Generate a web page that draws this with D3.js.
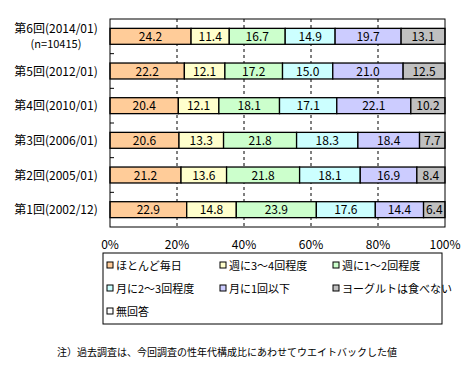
<!DOCTYPE html>
<html>
<head>
<meta charset="utf-8">
<script src="https://cdn.jsdelivr.net/npm/d3@7"></script>
<style>
  body { margin: 0; background: #fff; }
  text { font-family: "Noto Sans CJK JP", sans-serif; font-size: 12px; fill: #000; }
</style>
</head>
<body>
<svg id="chart" width="475" height="375"></svg>
<script>
// survey rounds, top to bottom
const rounds = ["第6回(2014/01)", "第5回(2012/01)", "第4回(2010/01)", "第3回(2006/01)", "第2回(2005/01)", "第1回(2002/12)"];
const subLabels = ["(n=10415)", "", "", "", "", ""];
const seriesNames = ["ほとんど毎日", "週に3～4回程度", "週に1～2回程度", "月に2～3回程度", "月に1回以下", "ヨーグルトは食べない", "無回答"];
const colors = ["#ffcc99", "#ffffcc", "#ccffcc", "#ccffff", "#ccccff", "#c0c0c0", "#ffffff"];

const daily = [24.2, 22.2, 20.4, 20.6, 21.2, 22.9];
const week34 = [11.4, 12.1, 12.1, 13.3, 13.6, 14.8];
const week12 = [16.7, 17.2, 18.1, 21.8, 21.8, 23.9];
const month23 = [14.9, 15.0, 17.1, 18.3, 18.1, 17.6];
const month1 = [19.7, 21.0, 22.1, 18.4, 16.9, 14.4];
const never = [13.1, 12.5, 10.2, 7.7, 8.4, 6.4];
const noAnswer = [0, 0, 0, 0, 0, 0];

const xTicks = [0, 20, 40, 60, 80, 100];

const seriesVals = [daily, week34, week12, month23, month1, never, noAnswer];

let svg = d3.select("#chart");
let margin = { top: 19, left: 110, right: 30, bottom: 148 };
let width = 475 - margin.left - margin.right;
let height = 375 - margin.top - margin.bottom;

let chart = svg.append("g").attr("transform", `translate(${margin.left},${margin.top})`);

let xScale = d3.scaleLinear().domain([0, 100]).range([0, width]);
let yScale = d3.scaleBand().domain(rounds).range([0, height]).paddingInner(0.54).paddingOuter(0.27);
let yBand = d3.scaleBand().domain(rounds).range([0, height]);

// dashed gridlines
chart.selectAll(".grid").data(xTicks.filter(t => t > 0 && t < 100)).enter().append("line")
    .attr("x1", d => xScale(d)).attr("x2", d => xScale(d))
    .attr("y1", 0).attr("y2", height)
    .attr("stroke", "#000").attr("stroke-dasharray", "3,3");

// stacked bars
let rows = rounds.map((r, i) => {
    let acc = 0;
    return seriesVals.map((s, k) => {
        let seg = { round: r, k: k, x0: acc, v: s[i] };
        acc += s[i];
        return seg;
    });
});

let rowG = chart.selectAll(".row").data(rows).enter().append("g")
    .attr("transform", (d, i) => `translate(0,${yScale(rounds[i])})`);

rowG.selectAll("rect").data(d => d.filter(t => t.v > 0)).enter().append("rect")
    .attr("x", d => xScale(d.x0))
    .attr("y", 0)
    .attr("width", d => xScale(Math.min(100, d.x0 + d.v)) - xScale(d.x0))
    .attr("height", yScale.bandwidth())
    .attr("fill", d => colors[d.k])
    .attr("stroke", "#000").attr("stroke-width", 1.3);

rowG.selectAll("text").data(d => d.filter(t => t.v > 0)).enter().append("text")
    .attr("x", d => xScale(d.x0 + d.v / 2))
    .attr("y", yScale.bandwidth() / 2 + 4.5)
    .attr("text-anchor", "middle")
    .text(d => d.v.toFixed(1));

// plot frame
chart.append("rect").attr("x", 0).attr("y", 0).attr("width", width).attr("height", height)
    .attr("fill", "none").attr("stroke", "#000");

// category ticks, pointing inward
chart.selectAll(".ytick").data(rounds.slice(1)).enter().append("line")
    .attr("x1", 0).attr("x2", 4)
    .attr("y1", d => yBand(d)).attr("y2", d => yBand(d))
    .attr("stroke", "#000");

// category labels
rounds.forEach((r, i) => {
    let cy = yScale(r) + yScale.bandwidth() / 2;
    let t = svg.append("text").attr("x", 56).attr("text-anchor", "middle");
    if (subLabels[i]) {
        t.attr("y", margin.top + cy - 3).text(r);
        svg.append("text").attr("x", 56).attr("y", margin.top + cy + 12)
            .attr("text-anchor", "middle").style("font-size", "11px").text(subLabels[i]);
    } else {
        t.attr("y", margin.top + cy + 4.5).text(r);
    }
});

// x axis labels
chart.selectAll(".xlab").data(xTicks).enter().append("text")
    .attr("x", d => xScale(d))
    .attr("y", height + 22)
    .attr("text-anchor", "middle")
    .text(d => d + "%");

// legend
let lg = svg.append("g").attr("transform", "translate(103,253)");
lg.append("rect").attr("width", 339).attr("height", 71).attr("fill", "#fff").attr("stroke", "#000");
let item = lg.selectAll(".item").data(seriesNames).enter().append("g")
    .attr("transform", (d, i) => `translate(${4 + (i % 3) * 113},${12 + Math.floor(i / 3) * 23})`);
item.append("rect").attr("x", 0).attr("y", -3).attr("width", 6).attr("height", 6)
    .attr("fill", (d, i) => colors[i]).attr("stroke", "#000");
item.append("text").attr("x", 9).attr("y", 4.5).style("font-size", "11px").text(d => d);

svg.append("text").attr("x", 57).attr("y", 356)
    .style("font-size", "10px")
    .text("注）過去調査は、今回調査の性年代構成比にあわせてウエイトバックした値");
</script>
</body>
</html>
